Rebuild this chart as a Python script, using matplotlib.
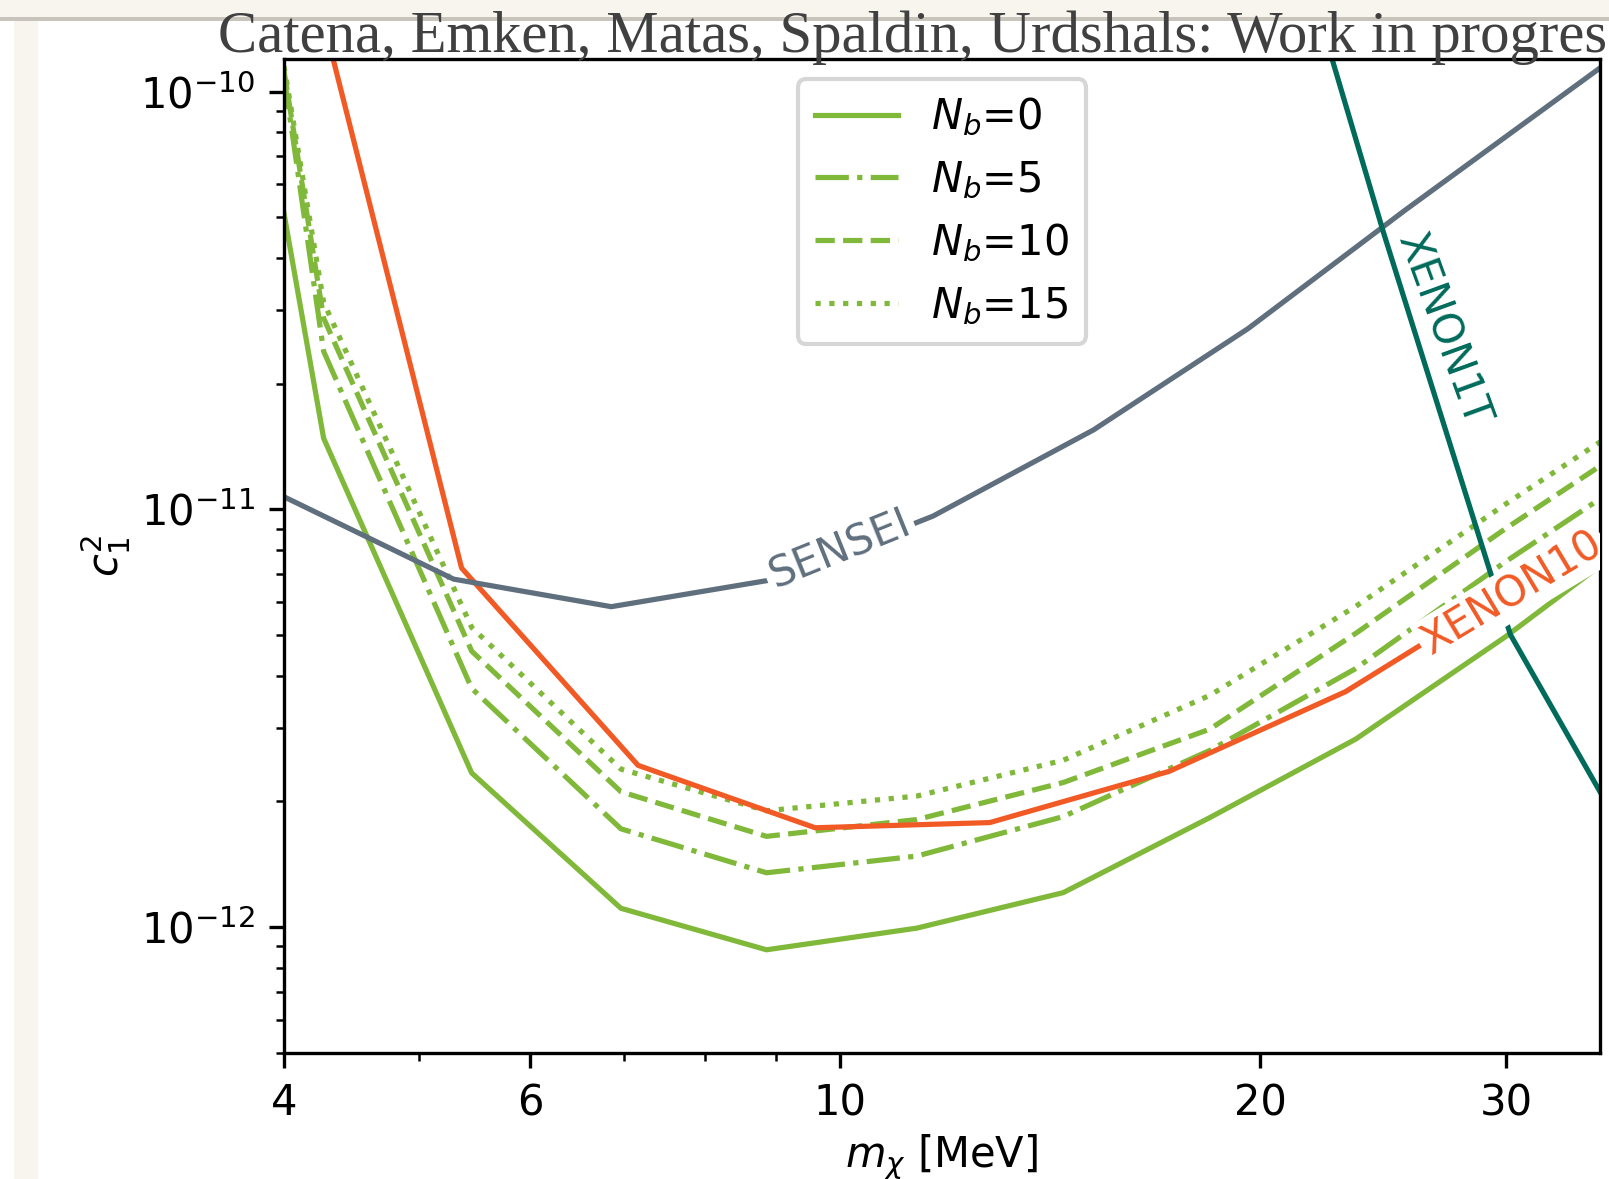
import matplotlib
matplotlib.use("Agg")
import matplotlib.pyplot as plt
from matplotlib.patches import Rectangle
from matplotlib.ticker import FixedLocator, NullFormatter

# dark matter mass grid of the projections [MeV]
m_nb = [4.0, 4.27, 5.45, 6.97, 8.86, 11.35, 14.45, 18.4, 23.4, 29.96, 35.0]
nb0 = [5.11e-11, 1.48e-11, 2.34e-12, 1.11e-12, 8.83e-13, 9.95e-13, 1.21e-12, 1.83e-12, 2.82e-12, 4.96e-12, 7.33e-12]
nb5 = [1.09e-10, 2.39e-11, 3.73e-12, 1.72e-12, 1.35e-12, 1.48e-12, 1.84e-12, 2.65e-12, 4.16e-12, 7.50e-12, 1.06e-11]
nb10 = [1.12e-10, 2.87e-11, 4.58e-12, 2.11e-12, 1.65e-12, 1.81e-12, 2.22e-12, 2.98e-12, 5.05e-12, 9.0e-12, 1.27e-11]
nb15 = [1.15e-10, 3.13e-11, 5.22e-12, 2.39e-12, 1.90e-12, 2.06e-12, 2.51e-12, 3.59e-12, 5.86e-12, 1.03e-11, 1.45e-11]
nb_labels = ['$N_b$=0', '$N_b$=5', '$N_b$=10', '$N_b$=15']

# existing limits
m_xe10 = [4.0, 5.36, 7.17, 9.6, 12.8, 17.2, 23.0, 30.8, 35.0]
xe10 = [3.5e-10, 7.24e-12, 2.44e-12, 1.73e-12, 1.78e-12, 2.36e-12, 3.66e-12, 6.70e-12, 8.77e-12]

m_sensei = [4.0, 5.29, 6.86, 8.95, 11.66, 15.19, 19.6, 25.4, 35.0]
sensei = [1.072e-11, 6.81e-12, 5.85e-12, 6.79e-12, 9.64e-12, 1.55e-11, 2.71e-11, 5.21e-11, 1.139e-10]

m_xe1t = [22.5, 24.5, 29.2, 30.2, 35.0]
xe1t = [1.2e-10, 4.59e-11, 7.10e-12, 5.01e-12, 2.11e-12]

green = '#80b83a'
orange = '#f15a24'
slate = '#5f6f7d'
teal = '#006a5b'

fig = plt.figure(figsize=(1609 / 300, 1179 / 300), dpi=300)

# slide background bits
fig.patches.append(Rectangle((0, 1 - 17 / 1179), 1, 17 / 1179, transform=fig.transFigure,
                             facecolor='#f8f5ee', edgecolor='none', zorder=-5))
fig.patches.append(Rectangle((0, 1 - 20.5 / 1179), 1, 3.5 / 1179, transform=fig.transFigure,
                             facecolor='#c8c4bc', edgecolor='none', zorder=-5))
fig.patches.append(Rectangle((14 / 1609, 0), 24 / 1609, 1 - 21 / 1179, transform=fig.transFigure,
                             facecolor='#f8f5ee', edgecolor='none', zorder=-5))

ax = fig.add_axes([284 / 1609, 1 - 1053 / 1179, 1316 / 1609, (1053 - 58.5) / 1179])

lw = 1.25
ax.plot(m_nb, nb0, '-', color=green, lw=lw, label=nb_labels[0])
ax.plot(m_nb, nb5, '-.', color=green, lw=lw, label=nb_labels[1])
ax.plot(m_nb, nb10, '--', color=green, lw=lw, label=nb_labels[2])
ax.plot(m_nb, nb15, ':', color=green, lw=lw, label=nb_labels[3])

ax.plot(m_xe10, xe10, '-', color=orange, lw=lw)
ax.plot(m_sensei, sensei, '-', color=slate, lw=lw)
ax.plot(m_xe1t, xe1t, '-', color=teal, lw=lw)

ax.set_xscale('log')
ax.set_yscale('log')
ax.set_xlim(4, 35)
ax.set_ylim(5e-13, 1.2e-10)

ax.xaxis.set_major_locator(FixedLocator([4, 6, 10, 20, 30]))
ax.set_xticklabels(['4', '6', '10', '20', '30'])
ax.xaxis.set_minor_locator(FixedLocator([5, 7, 8, 9]))
ax.xaxis.set_minor_formatter(NullFormatter())

ax.set_xlabel(r'$m_\chi$ [MeV]', labelpad=2)
ax.set_ylabel(r'$c_1^2$', labelpad=2)

# inline labels
box = dict(facecolor='white', edgecolor='none', pad=1)
ax.text(10.0, 8.0e-12, 'SENSEI', color=slate, fontsize=10, rotation=22,
        ha='center', va='center', bbox=box, zorder=5)
ax.text(30.3, 6.3e-12, 'XENON10', color=orange, fontsize=10, rotation=31,
        ha='center', va='center', bbox=box, zorder=5, clip_on=True)
ax.text(27.0, 2.7e-11, 'XENON1T', color=teal, fontsize=10, rotation=-70,
        ha='center', va='center', zorder=5)

ax.legend(loc='upper center')

fig.text(218 / 1609, 1 - 52 / 1179, 'Catena, Emken, Matas, Spaldin, Urdshals: Work in progress',
         family='Liberation Serif', fontsize=14.1, color='#404040', va='baseline', ha='left')

fig.savefig('out.png', dpi=300)
